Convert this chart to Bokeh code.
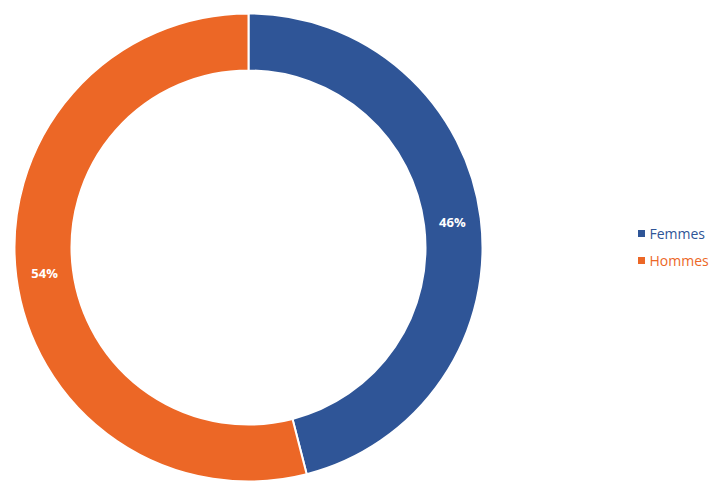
import math
from bokeh.plotting import figure
from bokeh.models import Range1d, ColumnDataSource
from bokeh.core.properties import value
from bokeh.embed import file_html
from bokeh.resources import INLINE

categories = ["Femmes", "Hommes"]
shares = [0.46, 0.54]
labels = ["46%", "54%"]
colors = ["#2F5597", "#EC6726"]

W, H = 720, 488
cx, cy = 248, 241
r_out, r_in = 234, 177

starts, ends, lx, ly = [], [], [], []
cum = 0.0
for s in shares:
    a0 = math.pi / 2 - cum * 2 * math.pi
    a1 = math.pi / 2 - (cum + s) * 2 * math.pi
    starts.append(a0)
    ends.append(a1)
    mid = (a0 + a1) / 2
    rm = (r_out + r_in) / 2
    lx.append(cx + rm * math.cos(mid))
    ly.append(cy + rm * math.sin(mid))
    cum += s

src = ColumnDataSource(dict(cat=categories, start=starts, end=ends, color=colors,
                            lx=lx, ly=ly, lab=labels))

p = figure(width=W, height=H, output_backend="svg", toolbar_location=None,
           x_range=Range1d(0, W), y_range=Range1d(0, H), min_border=0,
           outline_line_color=None)
p.axis.visible = False
p.grid.visible = False

p.annular_wedge(x=cx, y=cy, inner_radius=r_in, outer_radius=r_out,
                start_angle="start", end_angle="end", direction="clock",
                fill_color="color", line_color="white", line_width=2, source=src)

p.text(x="lx", y="ly", text="lab", source=src, text_align="center",
       text_baseline="middle", text_color="white", text_font=value("Open Sans"),
       text_font_size="13px", text_font_style="bold")

# legend
leg_x = 641
leg_y0 = H - 233
leg_dy = 27
lgx = [leg_x for _ in categories]
lgy = [leg_y0 - i * leg_dy for i in range(len(categories))]
lsrc = ColumnDataSource(dict(x=lgx, y=lgy, tx=[v + 8 for v in lgx], cat=categories, color=colors))
p.scatter(x="x", y="y", marker="square", size=7, fill_color="color", line_color=None, source=lsrc)
p.text(x="tx", y="y", text="cat", source=lsrc, text_color="color", text_align="left",
       text_baseline="middle", text_font=value("Open Sans"), text_font_size="14px")

open("out.html", "w").write(file_html(p, INLINE))
